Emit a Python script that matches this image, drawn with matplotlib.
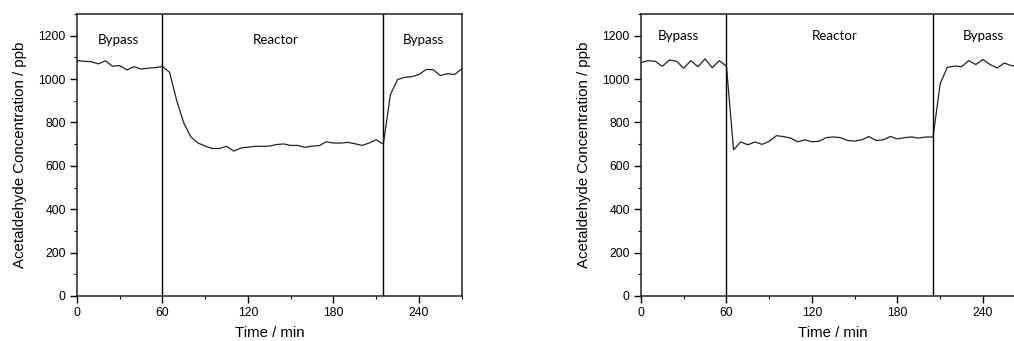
import matplotlib
matplotlib.use("Agg")
import matplotlib.pyplot as plt
import numpy as np
from matplotlib.ticker import MultipleLocator

plt.rcParams['font.family'] = ['Liberation Sans', 'DejaVu Sans']

# Datos (cada 5 min)
time_left = list(range(0, 275, 5))
conc_left = [1085, 1082, 1080, 1070, 1084, 1059, 1062, 1042, 1057, 1046, 1050, 1053,
             1058, 1031, 901, 797, 733, 705, 691, 680, 680, 690, 668, 682, 686, 690,
             690, 691, 698, 701, 694, 694, 685, 691, 693, 711, 705, 705, 708, 702,
             694, 705, 720, 700, 929, 998, 1008, 1011, 1021, 1044, 1043, 1016, 1025,
             1021, 1047]

time_right = list(range(0, 270, 5))
conc_right = [1076, 1085, 1082, 1059, 1088, 1082, 1050, 1085, 1057, 1093, 1052, 1085,
              1059, 674, 710, 697, 710, 699, 713, 739, 735, 728, 711, 720, 711, 713,
              730, 733, 730, 717, 714, 720, 735, 717, 720, 735, 724, 730, 733, 728,
              733, 733, 978, 1054, 1060, 1057, 1085, 1067, 1090, 1067, 1051, 1074,
              1062, 1060]

switch_left = [60, 215]
switch_right = [60, 205]

phase_names = ['Bypass', 'Reactor', 'Bypass']
label_x_left = [29, 139.5, 243]
label_x_right = [26, 136, 240]

fig = plt.figure(figsize=(10.14, 3.41), dpi=100)
ax1 = fig.add_axes([0.0759, 0.132, 0.3794, 0.827])
ax2 = fig.add_axes([0.6321, 0.132, 0.3794, 0.827])

panels = [
    (ax1, time_left, conc_left, switch_left, label_x_left, 1182),
    (ax2, time_right, conc_right, switch_right, label_x_right, 1200),
]

for ax, t, c, switches, lx, ly in panels:
    ax.plot(t, c, color='#222222', lw=0.9)
    for s in switches:
        ax.axvline(s, color='black', lw=1.0)
    for name, x in zip(phase_names, lx):
        ax.text(x, ly, name, ha='center', va='center', fontsize=9.6,
                family=['Lato', 'DejaVu Sans'])

    ax.set_xlim(0, 270)
    ax.set_ylim(0, 1300)
    ax.set_xticks(np.arange(0, 241, 60))
    ax.set_yticks(np.arange(0, 1201, 200))
    ax.xaxis.set_minor_locator(MultipleLocator(30))
    ax.yaxis.set_minor_locator(MultipleLocator(100))
    ax.tick_params(which='major', direction='out', length=5, width=1,
                   labelsize=8.8, pad=3)
    ax.tick_params(which='minor', direction='out', length=2.5, width=0.8)
    for sp in ax.spines.values():
        sp.set_linewidth(1.1)
        sp.set_color('#222222')

    ax.set_xlabel('Time / min', fontsize=10.8, labelpad=5)
    ax.set_ylabel('Acetaldehyde Concentration / ppb', fontsize=10.8, labelpad=8)

fig.savefig('out.png', dpi=100)
